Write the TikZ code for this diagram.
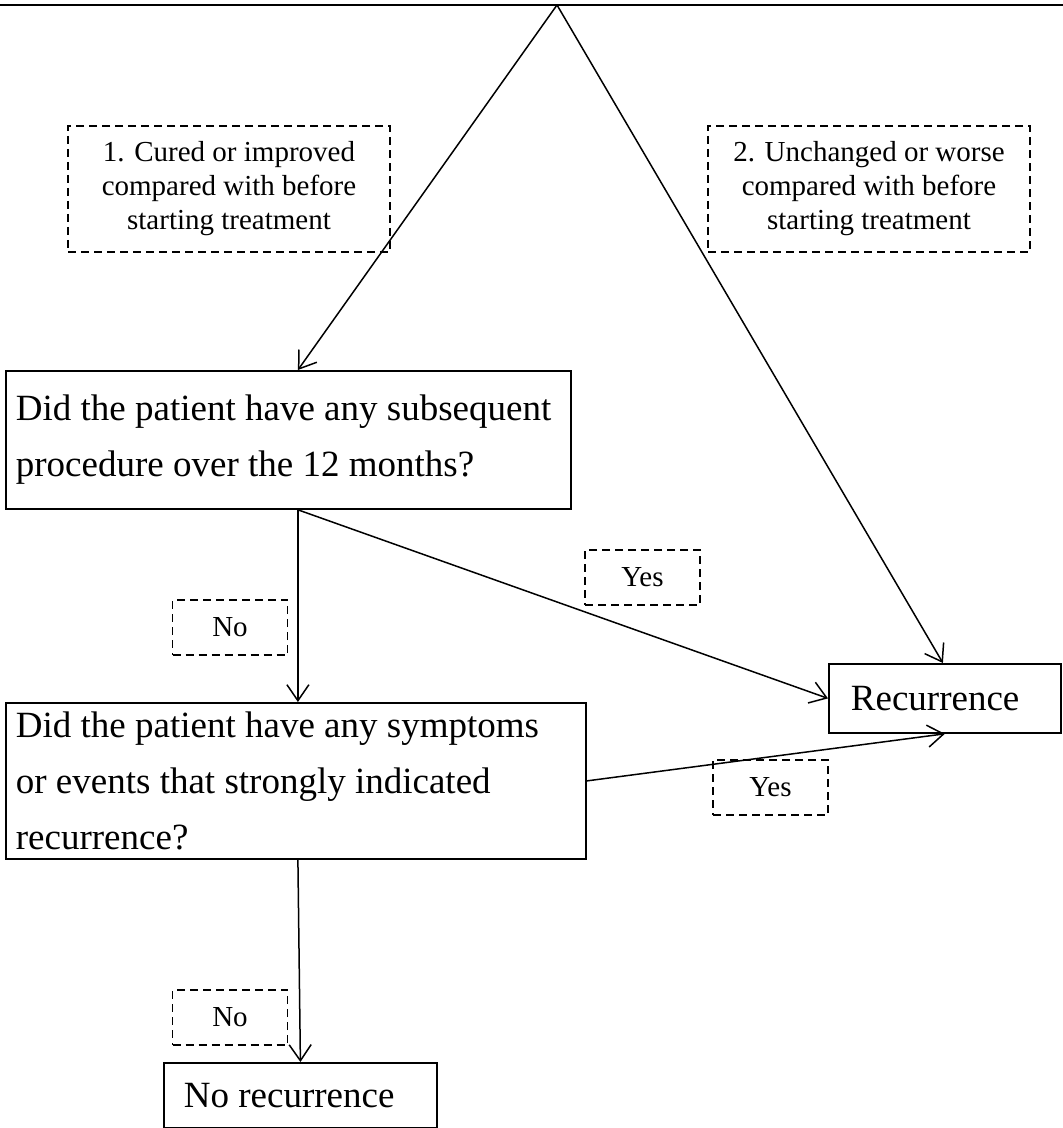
\documentclass[tikz,border=0pt]{standalone}
\usepackage{fontspec}
\setmainfont{Liberation Serif}
\usetikzlibrary{arrows.meta}

\begin{document}
\begin{tikzpicture}[x=0.5pt, y=-0.5pt,
    qbox/.style={draw, line width=0.9pt, anchor=north west, align=flush left, inner xsep=5pt, font=\fontsize{18.5}{28}\selectfont, execute at begin node={\parindent=0pt}},
    tag/.style={draw, dashed, dash pattern=on 4pt off 2.5pt, line width=0.75pt, align=center, font=\fontsize{14.5}{17}\selectfont},
    arr/.style={-{Straight Barb[length=8pt,width=11pt]}, line width=0.75pt}]
  \useasboundingbox (0,0) rectangle (1063,1128);
  \draw[line width=1.2pt] (0,5) -- (1063,5);
  \coordinate (apex) at (557,5);
  \node[tag, minimum width=161pt, minimum height=63pt] (better) at (229,189) {1. Cured or improved\\compared with before\\starting treatment};
  \node[tag, minimum width=161pt, minimum height=63pt] (worse) at (869,189) {2. Unchanged or worse\\compared with before\\starting treatment};
  \node[qbox, text width=272.5pt, minimum height=69pt] (proc) at (5,370) {Did the patient have any subsequent\\procedure over the 12 months?};
  \node[qbox, text width=280pt, minimum height=78pt] (symp) at (5,702) {Did the patient have any symptoms\\or events that strongly indicated\\recurrence?};
  \node[qbox, inner xsep=11pt, text width=94pt, minimum height=34.5pt] (rec) at (828,663) {Recurrence};
  \node[qbox, inner xsep=10pt, text width=116.5pt, minimum height=32.5pt] (norec) at (163,1062) {No recurrence};
  \node[tag, minimum width=57.5pt, minimum height=27.5pt] (yesproc) at (642.5,577.5) {Yes};
  \node[tag, minimum width=57.5pt, minimum height=27.5pt] (noproc) at (230,627.5) {No};
  \node[tag, minimum width=57.5pt, minimum height=27.5pt] (yessymp) at (770.5,787.5) {Yes};
  \node[tag, minimum width=57.5pt, minimum height=27.5pt] (nosymp) at (230,1017.5) {No};
  \draw[arr] (apex) -- ([xshift=4.75pt]proc.north);
  \draw[arr] (apex) -- ([xshift=-1pt]rec.north);
  \draw[arr] ([xshift=4.75pt]proc.south) -- ([xshift=1pt]symp.north);
  \draw[arr] ([xshift=4.75pt]proc.south) -- (rec.west);
  \draw[arr] (symp.east) -- (rec.south);
  \draw[arr] ([xshift=1pt]symp.south) -- (norec.north);
\end{tikzpicture}
\end{document}
